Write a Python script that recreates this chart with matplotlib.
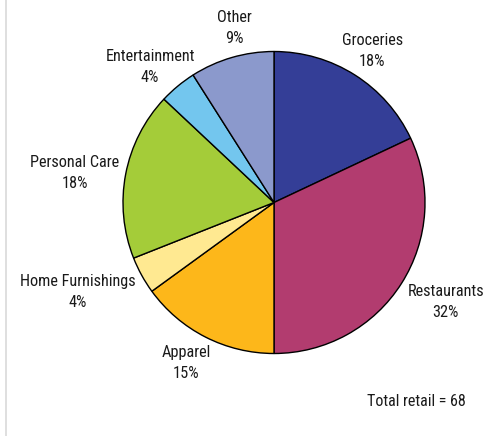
import numpy as np
import matplotlib.pyplot as plt

categories = ["Groceries", "Restaurants", "Apparel", "Home Furnishings",
              "Personal Care", "Entertainment", "Other"]
shares = [18, 32, 15, 4, 18, 4, 9]
colors = ["#343E97", "#B23C6F", "#FDB71A", "#FFE991",
          "#A4CC39", "#73C6EE", "#8B99CC"]
# label placement: distance from the centre (pie radii) and a clockwise nudge (deg)
label_dist = [1.206, 1.307, 1.203, 1.421, 1.335, 1.226, 1.199]
label_nudge = [0.2, -2.8, 2.0, 4.7, -1.7, -2.4, 3.4]
total_retail = 68

plt.rcParams['font.family'] = ['Roboto Condensed', 'DejaVu Sans']

W, H = 502, 436
fig = plt.figure(figsize=(W / 100, H / 100), dpi=100)
ax = fig.add_axes([0, 0, 1, 1])

cx, cy, r = 274, H - 202.5, 151
wedges, _ = ax.pie(shares, colors=colors, startangle=90, counterclock=False,
                   center=(cx, cy), radius=r, frame=True,
                   wedgeprops=dict(edgecolor='black', linewidth=1))
ax.set_xlim(0, W)
ax.set_ylim(0, H)
ax.set_aspect('equal')
ax.axis('off')

for w, name, val, d, nd in zip(wedges, categories, shares, label_dist, label_nudge):
    ang = np.deg2rad((w.theta1 + w.theta2) / 2 - nd)
    x = cx + d * r * np.cos(ang)
    y = cy + d * r * np.sin(ang) - 2  # text sits a touch low in the original
    ax.text(x, y, f"{name}\n{val}%", ha='center', va='center',
            fontsize=11.7, color='#1a1a1a', linespacing=1.5)

ax.text(416, H - 401, f"Total retail = {total_retail}", ha='center', va='center',
        fontsize=11.5, color='#1a1a1a')

# thin grey rule on the left
ax.plot([6.5, 6.5], [0, H], color='#d9d9d9', lw=1.2)

fig.savefig("out.png", dpi=100)
